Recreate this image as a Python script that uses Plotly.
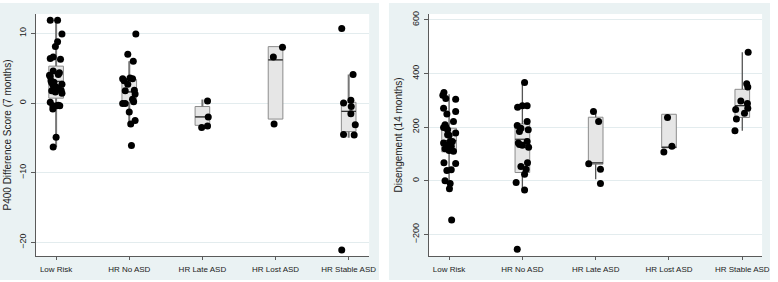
import plotly.graph_objects as go

categories = ["Low Risk", "HR No ASD", "HR Late ASD", "HR Lost ASD", "HR Stable ASD"]

# ---------- Left panel: P400 Difference Score (7 months) ----------
p400_q1 = [0.7, 0.1, -3.2, -2.3, -4.1]
p400_median = [3.1, 1.6, -2.0, 6.2, -1.2]
p400_q3 = [5.3, 3.4, -0.5, 8.1, 0.1]
p400_wlo = [-6.3, -3.3, -3.2, -2.3, -5.0]
p400_whi = [12.1, 6.0, 0.5, 8.1, 4.1]

p400_lowrisk = [11.9, 11.9, 9.9, 8.8, 8.1, 6.6, 6.4, 6.3, 4.6, 4.35, 4.1, 4.0, 3.8, 3.2, 2.9,
                2.7, 2.5, 2.1, 1.75, 1.6, 1.4, 0.1, -0.3, -0.4, -0.4, -0.4, -0.85, -4.9, -6.3,
                3.0, 2.3, 1.8]
p400_lowrisk_jit = [-0.08, 0.02, 0.08, 0.02, -0.01, -0.04, -0.08, 0.06, -0.04, 0.045, 0.03, -0.09,
                    -0.08, -0.07, -0.06, 0.08, -0.04, 0.02, -0.06, -0.01, 0.08, -0.08, 0.03, -0.045,
                    0.01, 0.05, -0.045, 0.0, -0.04, -0.03, 0.0, 0.07]
p400_noasd = [9.9, 7.0, 6.0, 3.5, 3.2, 3.6, 3.5, 2.7, 1.75, 1.85, 1.3, 0.55, 0.2, -0.05, -0.05,
              -1.3, -2.5, -3.0, -6.1]
p400_noasd_jit = [0.09, -0.02, 0.055, -0.09, -0.07, 0.01, 0.045, -0.02, -0.055, 0.07, 0.08, 0.045,
                  0.06, -0.09, -0.055, 0.0, 0.08, 0.02, 0.03]
p400_late = [0.3, -2.0, -3.5, -3.3]
p400_late_jit = [0.07, 0.08, -0.01, 0.07]
p400_lost = [8.0, 6.6, -3.0]
p400_lost_jit = [0.095, -0.03, -0.02]
p400_stable = [10.7, 4.1, 0.0, 0.4, -0.5, -1.55, -3.1, -4.5, -4.6, -21.1]
p400_stable_jit = [-0.095, 0.06, -0.07, 0.03, 0.035, 0.03, 0.09, -0.07, 0.075, -0.095]

p400_ticks = [10, 0, -10, -20]

# ---------- Right panel: Disengement (14 months) ----------
dis_q1 = [108, 31, 62, 123, 236]
dis_median = [150, 155, 67, 125, 280]
dis_q3 = [196, 212, 237, 248, 341]
dis_wlo = [-30, -37, 6, 123, 187]
dis_whi = [323, 368, 258, 248, 479]

dis_lowrisk = [329, 319, 307, 304, 270, 258, 249, 221, 209, 199, 201, 190, 178, 172, 170, 141, 147,
               147, 133, 129, 120, 113, 110, 67, 65, 39, 41, 0, -10, -29, -146]
dis_lowrisk_jit = [-0.07, -0.085, -0.045, 0.09, -0.075, 0.09, -0.03, 0.06, -0.055, -0.075, -0.045,
                   -0.02, 0.09, -0.02, 0.0, -0.075, 0.015, 0.045, -0.03, 0.03, -0.055, 0.0, 0.06,
                   -0.07, 0.09, -0.03, 0.03, -0.055, 0.015, 0.005, 0.035]
dis_noasd = [366, 274, 280, 280, 221, 206, 196, 190, 184, 147, 141, 135, 133, 125, 67, 53, 43, 25,
             -6, -34, -255]
dis_noasd_jit = [0.03, -0.065, 0.0, 0.065, 0.065, -0.07, -0.02, 0.08, -0.04, 0.065, -0.055, -0.04,
                 0.0, 0.085, 0.07, -0.02, 0.05, 0.03, -0.085, 0.03, -0.07]
dis_late = [258, 221, 64, 43, -10]
dis_late_jit = [-0.03, 0.04, -0.095, 0.065, 0.065]
dis_lost = [236, 129, 107]
dis_lost_jit = [-0.02, 0.04, -0.07]
dis_stable = [479, 362, 350, 297, 288, 266, 270, 252, 230, 187]
dis_stable_jit = [0.08, 0.06, 0.075, -0.02, 0.07, -0.09, 0.075, 0.03, -0.08, -0.1]

dis_ticks = [600, 400, 200, 0, -200]

# ---------- style ----------
BG = "#eaf2f3"
GRID = "#e3ecee"
AXIS = "#5a5a5a"
BOX_FILL = "#e6e6e6"
BOX_LINE = "#8c8c8c"
FONT = "Liberation Sans, Arial, sans-serif"
BOX_W = 0.2
positions = [1, 2, 3, 4, 5]

fig = go.Figure()


def add_panel(xa, ya, q1, med, q3, wlo, whi, groups, whisker_color, whisker_w):
    # whiskers
    wx, wy = [], []
    for p, lo, a, b, hi in zip(positions, wlo, q1, q3, whi):
        if lo < a:
            wx += [p, p, None]
            wy += [lo, a, None]
        if hi > b:
            wx += [p, p, None]
            wy += [b, hi, None]
    fig.add_trace(go.Scatter(x=wx, y=wy, mode="lines", xaxis=xa, yaxis=ya,
                             line=dict(color=whisker_color, width=whisker_w),
                             hoverinfo="skip", showlegend=False))
    # boxes
    fig.add_trace(go.Box(x=positions, q1=q1, median=med, q3=q3, lowerfence=q1, upperfence=q3,
                         width=BOX_W, fillcolor=BOX_FILL, line=dict(color=BOX_LINE, width=1),
                         whiskerwidth=0, boxpoints=False, xaxis=xa, yaxis=ya, showlegend=False))
    # medians
    mx, my = [], []
    for p, m in zip(positions, med):
        mx += [p - BOX_W / 2, p + BOX_W / 2, None]
        my += [m, m, None]
    fig.add_trace(go.Scatter(x=mx, y=my, mode="lines", xaxis=xa, yaxis=ya,
                             line=dict(color="#333333", width=1.2),
                             hoverinfo="skip", showlegend=False))
    # points
    px, py = [], []
    for p, (vals, jit) in zip(positions, groups):
        px += [p + j for j in jit]
        py += vals
    fig.add_trace(go.Scatter(x=px, y=py, mode="markers", xaxis=xa, yaxis=ya,
                             marker=dict(color="black", size=7),
                             showlegend=False))


add_panel("x", "y", p400_q1, p400_median, p400_q3, p400_wlo, p400_whi,
          [(p400_lowrisk, p400_lowrisk_jit), (p400_noasd, p400_noasd_jit),
           (p400_late, p400_late_jit), (p400_lost, p400_lost_jit),
           (p400_stable, p400_stable_jit)], "#777777", 2)
add_panel("x2", "y2", dis_q1, dis_median, dis_q3, dis_wlo, dis_whi,
          [(dis_lowrisk, dis_lowrisk_jit), (dis_noasd, dis_noasd_jit),
           (dis_late, dis_late_jit), (dis_lost, dis_lost_jit),
           (dis_stable, dis_stable_jit)], "#555555", 1.3)

W, H = 778, 282
ydom = [1 - 256 / H, 1 - 11 / H]

xaxis_common = dict(tickvals=positions, ticktext=categories, showgrid=False, zeroline=False,
                    showline=True, linecolor=AXIS, linewidth=1, ticks="outside", ticklen=3,
                    tickcolor=AXIS, tickfont=dict(size=8, color="#222222", family=FONT),
                    ticklabelstandoff=2, fixedrange=True)
yaxis_common = dict(showgrid=True, gridcolor=GRID, gridwidth=1, zeroline=False, showline=True,
                    linecolor=AXIS, linewidth=1, ticks="outside", ticklen=4, tickcolor=AXIS,
                    tickangle=-90, tickfont=dict(size=9, color="#222222", family=FONT),
                    ticklabelstandoff=1, fixedrange=True)

fig.update_layout(
    width=W, height=H,
    margin=dict(l=0, r=0, t=0, b=0),
    paper_bgcolor="white",
    plot_bgcolor="white",
    font=dict(family=FONT, color="#222222"),
    showlegend=False,
    xaxis=dict(domain=[36 / W, 373 / W], range=[0.72, 5.28], anchor="y", **xaxis_common),
    yaxis=dict(domain=ydom, range=[-22.0, 12.8], tickvals=p400_ticks, anchor="x", **yaxis_common),
    xaxis2=dict(domain=[433 / W, 770 / W], range=[0.72, 5.27], anchor="y2", **xaxis_common),
    yaxis2=dict(domain=ydom, range=[-281, 622], tickvals=dis_ticks, anchor="x2", **yaxis_common),
    shapes=[
        dict(type="rect", xref="paper", yref="paper", x0=0, x1=383 / W, y0=1 - 280 / H, y1=1,
             fillcolor=BG, line=dict(width=0), layer="below"),
        dict(type="rect", xref="paper", yref="paper", x0=393 / W, x1=1, y0=1 - 280 / H, y1=1,
             fillcolor=BG, line=dict(width=0), layer="below"),
        dict(type="rect", xref="x domain", yref="y domain", x0=0, x1=1, y0=0, y1=1,
             fillcolor="white", line=dict(width=0), layer="below"),
        dict(type="rect", xref="x2 domain", yref="y2 domain", x0=0, x1=1, y0=0, y1=1,
             fillcolor="white", line=dict(width=0), layer="below"),
    ],
    annotations=[
        dict(text="P400 Difference Score (7 months)", xref="paper", yref="paper",
             x=8 / W, y=1 - 133 / H, xanchor="center", yanchor="middle", textangle=-90,
             showarrow=False, font=dict(size=10, color="#222222", family=FONT)),
        dict(text="Disengement (14 months)", xref="paper", yref="paper",
             x=403 / W, y=1 - 133 / H, xanchor="center", yanchor="middle", textangle=-90,
             showarrow=False, font=dict(size=10, color="#222222", family=FONT)),
    ],
)

fig.write_html("out.html", config={"displayModeBar": False},
               post_script="document.body.style.margin='0';document.body.style.padding='0';")
